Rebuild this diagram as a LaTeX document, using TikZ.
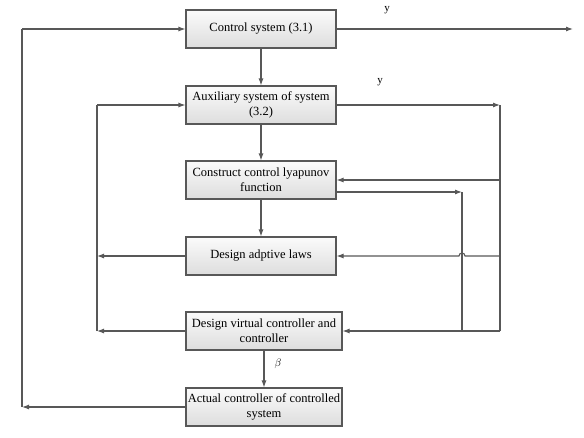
\documentclass[tikz,border=0pt]{standalone}
\usepackage{fontspec}
\setmainfont{Liberation Serif}
\usetikzlibrary{arrows.meta}
\definecolor{Wire}{HTML}{585858}
\definecolor{BoxTop}{HTML}{FBFBFB}
\definecolor{BoxBot}{HTML}{DDDDDD}

\begin{document}
\begin{tikzpicture}[x=1pt,y=-1pt,>={Latex[length=7pt,width=5pt]},every node/.style={font=\fontsize{12.5}{15}\selectfont},block/.style={draw=Wire,line width=1.1pt,top color=BoxTop,bottom color=BoxBot,minimum height=38pt,inner sep=0pt,align=center},wire/.style={draw=Wire,line width=1.1pt},flow/.style={->,wire},lbl/.style={font=\fontsize{11}{13}\selectfont}]
\fill[white] (0,0) rectangle (584,437);
\useasboundingbox (0,0) rectangle (584,437);
\node[block,minimum width=150pt](ctrl) at (261,29){Control system (3.1)};
\node[block,minimum width=150pt](aux) at (261,105){Auxiliary system of system\\(3.2)};
\node[block,minimum width=150pt](lyap) at (261,180){Construct control lyapunov\\function};
\node[block,minimum width=150pt](adapt) at (261,256){Design adptive laws};
\node[block,minimum width=156pt](virt) at (264,331){Design virtual controller and\\controller};
\node[block,minimum width=156pt](actual) at (264,407){Actual controller of controlled\\system};
\node[lbl](yOut) at (387,10){y};
\node[lbl](yAux) at (380,82){y};
\node[lbl](beta) at (278,364){$\beta$};
% junction points
\coordinate (outTop) at (22,29);
\coordinate (outBot) at (22,407);
\coordinate (inTop) at (97,105);
\coordinate (inMid) at (97,256);
\coordinate (inBot) at (97,331);
\coordinate (yEnd) at (573,29);
\coordinate (rTop) at (500,105);
\coordinate (rLyap) at (500,180);
\coordinate (rAdapt) at (500,256);
\coordinate (rBot) at (500,331);
\coordinate (hop) at (465,256);
\coordinate (jTop) at (462,192);
\coordinate (jBot) at (462,331);
% main chain
\draw[flow](ctrl)--(aux);
\draw[flow](aux)--(lyap);
\draw[flow](lyap)--(adapt);
\draw[flow](virt)--(actual);
% right side
\draw[flow](ctrl)--(yEnd);
\draw[flow](aux)--(rTop);
\draw[wire](rTop)--(rBot);
\draw[flow](rLyap)--(lyap);
\draw[flow](rAdapt)--(hop) arc[start angle=0,end angle=180,radius=3pt]--(adapt);
\draw[flow](rBot)--(virt);
\draw[flow]([yshift=-12pt]lyap.east)--(jTop);
\draw[wire](jTop)--(jBot);
% left side
\draw[flow](adapt)--(inMid);
\draw[flow](virt)--(inBot);
\draw[wire](inBot)--(inTop);
\draw[flow](inTop)--(aux);
\draw[flow](actual)--(outBot);
\draw[wire](outBot)--(outTop);
\draw[flow](outTop)--(ctrl);
\end{tikzpicture}
\end{document}
